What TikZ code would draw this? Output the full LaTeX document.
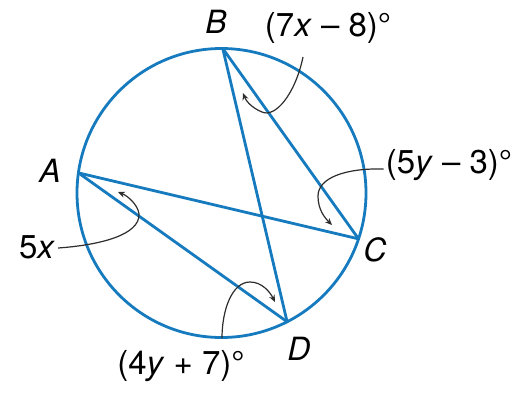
\documentclass[tikz,border=0pt]{standalone}
\usepackage{fontspec}
\setmainfont{TeX Gyre Heros}
\usetikzlibrary{arrows.meta}
\definecolor{circblue}{RGB}{22,122,190}
\definecolor{arrgray}{RGB}{45,45,45}
\tikzset{
  chord/.style={circblue, line width=2.8pt},
  ptlabel/.style={font=\fontsize{32}{32}\selectfont\itshape, inner sep=0pt},
  anglabel/.style={font=\fontsize{33}{33}\selectfont, inner sep=0pt},
  pointer/.style={arrgray, line width=1.2pt, -{Stealth[length=7pt,width=6pt]}}
}
\begin{document}
\begin{tikzpicture}[x=1pt,y=-1pt]
\useasboundingbox[fill=white] (0,0) rectangle (521,394);
\coordinate (O) at (221.5,193);
\path (O) ++(-172:144.5) coordinate (A);
\path (O) ++(-89.5:144.5) coordinate (B);
\path (O) ++(18.5:144.5) coordinate (C);
\path (O) ++(63:144.5) coordinate (D);
% chords
\draw[chord] (A) -- (C);
\draw[chord] (A) -- (D);
\draw[chord] (B) -- (D);
\draw[chord] (B) -- (C);
% circle
\draw[chord] (O) circle[radius=144.5pt];
% point labels
\node[ptlabel] (lA) at (50,171) {A};
\node[ptlabel] (lB) at (216,22) {B};
\node[ptlabel] (lC) at (375,250) {C};
\node[ptlabel] (lD) at (299,349) {D};
% angle labels
\node[anglabel] (l7x) at (328,28) {(7\textit{x} \textendash{} 8)°};
\node[anglabel] (l5x) at (37,247) {5\textit{x}};
\node[anglabel] (l5y) at (449,165) {(5\textit{y} \textendash{} 3)°};
\node[anglabel] (l4y) at (181,366) {(4\textit{y} + 7)°};
% pointers
\coordinate (t7x) at (243,93);
\coordinate (t5x) at (118,192);
\coordinate (t5y) at (332,225);
\coordinate (t4y) at (275,302);
\draw[pointer] (303,57) .. controls (295,95) and (275,118) .. (262,112) .. controls (252,108) and (246,101) .. (t7x);
\draw[pointer] (l5x.east) ++(3,1) .. controls (100,245) and (140,235) .. (139,214) .. controls (138,205) and (128,196) .. (t5x);
\draw[pointer] (l5y.west) ++(-2,4) .. controls (345,168) and (318,178) .. (318,196) .. controls (318,210) and (325,218) .. (t5y);
\draw[pointer] (222,338) .. controls (222,310) and (232,282) .. (250,282) .. controls (262,282) and (270,292) .. (t4y);
\end{tikzpicture}
\end{document}
